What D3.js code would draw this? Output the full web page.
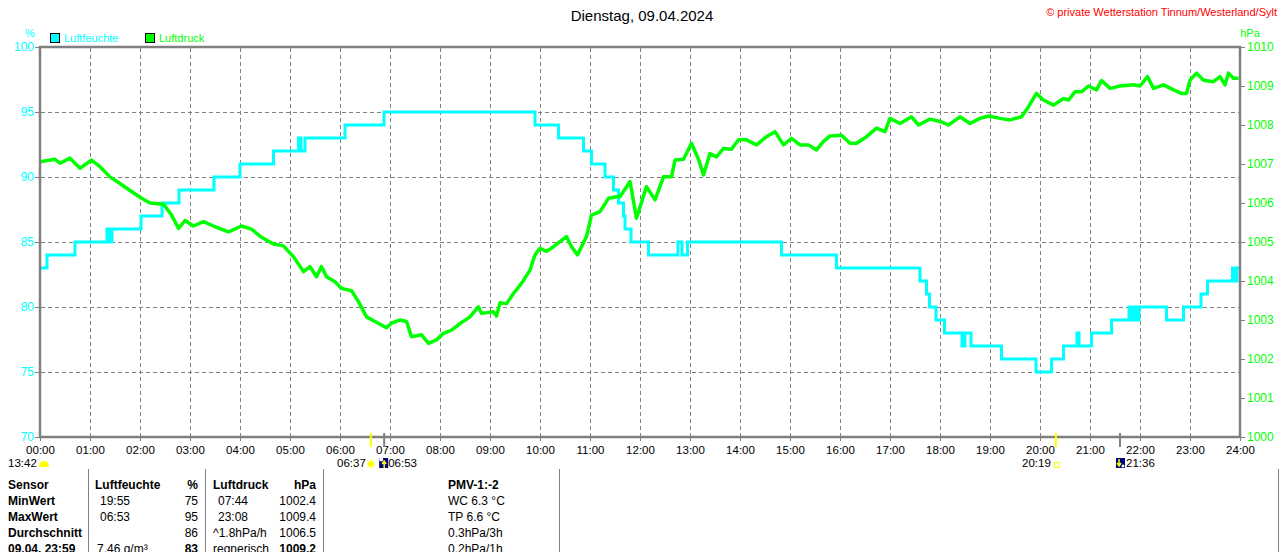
<!DOCTYPE html>
<html>
<head>
<meta charset="utf-8">
<script src="https://cdn.jsdelivr.net/npm/d3@7"></script>
<style>
  html, body { margin: 0; padding: 0; background: #fff; }
  svg { display: block; font-family: "Liberation Sans", Arial, sans-serif; }
</style>
</head>
<body>
<script>
// humidity (step values), time in hours
var humTime = [0, 0.14, 0.7, 1.34, 1.38, 1.44, 2.02, 2.44, 2.78, 3.48, 4.0, 4.67, 5.17, 5.22, 5.3, 6.1, 6.88,
  9.9, 10.37, 10.87, 11.03, 11.3, 11.47, 11.57, 11.67, 11.7, 11.82, 12.17, 12.76, 12.84, 12.95, 14.83, 15.93,
  17.6, 17.73, 17.79, 17.92, 18.09, 18.44, 18.5, 18.62, 19.23, 19.92, 20.23, 20.47, 20.74, 20.78, 21.03, 21.43,
  21.78, 21.84, 21.9, 21.94, 21.98, 22.53, 22.87, 23.22, 23.35, 23.85, 23.9, 23.94, 24];
var humVal = [83, 84, 85, 86, 85, 86, 87, 88, 89, 90, 91, 92, 93, 92, 93, 94, 95,
  94, 93, 92, 91, 90, 89, 88, 87, 86, 85, 84, 85, 84, 85, 84, 83,
  82, 81, 80, 79, 78, 77, 78, 77, 76, 75, 76, 77, 78, 77, 78, 79,
  80, 79, 80, 79, 80, 79, 80, 81, 82, 83, 82, 83, 83];

// air pressure (hPa)
var presTime = [0, 0.3, 0.4, 0.6, 0.8, 1.03, 1.2, 1.4, 1.6, 1.8, 2.03, 2.2, 2.47, 2.63, 2.77, 2.9, 3.07, 3.27,
  3.47, 3.77, 4.03, 4.23, 4.43, 4.67, 4.87, 5.07, 5.27, 5.4, 5.53, 5.63, 5.73, 5.9,
  6.03, 6.23, 6.37, 6.53, 6.7, 6.93, 7.03, 7.2, 7.33, 7.43, 7.63, 7.77, 7.93, 8.07, 8.23, 8.4, 8.6, 8.77,
  8.83, 9.07, 9.13, 9.2, 9.33, 9.47, 9.63, 9.8, 9.9, 10.0, 10.13, 10.27, 10.4, 10.53, 10.63, 10.75, 10.93,
  11.03, 11.2, 11.37, 11.53,
  11.6, 11.8, 11.93, 12.13, 12.3, 12.47, 12.63, 12.7, 12.87, 13.03, 13.17, 13.27, 13.4, 13.53, 13.67, 13.83,
  13.97, 14.13, 14.33, 14.53, 14.7, 14.87, 15.03, 15.2, 15.37, 15.53, 15.67, 15.8, 16.03, 16.2, 16.33, 16.53,
  16.73, 16.9, 17.0,
  17.2, 17.43, 17.57, 17.8, 18.0, 18.17, 18.4, 18.6, 18.8, 18.97, 19.2, 19.4, 19.63, 19.77, 19.93, 20.07,
  20.27, 20.47, 20.57, 20.7, 20.83, 20.97, 21.13, 21.23, 21.4, 21.6, 21.87, 22.0, 22.15, 22.27, 22.47, 22.67,
  22.83, 22.93, 23.0, 23.13, 23.27, 23.47, 23.6, 23.7, 23.77, 23.87, 23.97];
var presVal = [1007.06, 1007.12, 1007.02, 1007.15, 1006.89, 1007.1, 1006.93, 1006.67, 1006.5, 1006.32, 1006.12,
  1006.0, 1005.97, 1005.69, 1005.35, 1005.55, 1005.41, 1005.52, 1005.41, 1005.26, 1005.41, 1005.33, 1005.12,
  1004.95, 1004.9, 1004.62, 1004.24, 1004.37, 1004.11, 1004.37, 1004.11, 1003.98,
  1003.81, 1003.75, 1003.47, 1003.08, 1002.96, 1002.8, 1002.92, 1003.0, 1002.96, 1002.57, 1002.62, 1002.4,
  1002.49, 1002.66, 1002.74, 1002.91, 1003.08, 1003.34, 1003.17, 1003.21, 1003.1, 1003.44, 1003.42, 1003.68,
  1003.94, 1004.28, 1004.67, 1004.84, 1004.76, 1004.88, 1005.01, 1005.14, 1004.88, 1004.67, 1005.14,
  1005.69, 1005.78, 1006.12, 1006.16,
  1006.16, 1006.55, 1005.61, 1006.42, 1006.08, 1006.67, 1006.67, 1007.1, 1007.12, 1007.53, 1007.12, 1006.72,
  1007.27, 1007.18, 1007.4, 1007.38, 1007.62, 1007.62, 1007.49, 1007.7, 1007.83, 1007.49, 1007.66, 1007.49,
  1007.49, 1007.36, 1007.58, 1007.72, 1007.74, 1007.53, 1007.53, 1007.7, 1007.92, 1007.83, 1008.17,
  1008.04, 1008.21, 1008.0, 1008.15, 1008.09, 1008.0, 1008.21, 1008.04, 1008.17, 1008.23, 1008.17, 1008.13,
  1008.21, 1008.47, 1008.81, 1008.64, 1008.51, 1008.68, 1008.64, 1008.85, 1008.85, 1009.0, 1008.9, 1009.14,
  1008.94, 1009.0, 1009.03, 1009.0, 1009.24, 1008.94, 1009.03, 1008.9, 1008.81, 1008.81, 1009.15, 1009.33,
  1009.15, 1009.11, 1009.24, 1009.03, 1009.33, 1009.2, 1009.2];

var humTicks = [70, 75, 80, 85, 90, 95, 100];
var presTicks = [1000, 1001, 1002, 1003, 1004, 1005, 1006, 1007, 1008, 1009, 1010];
var hourTicks = d3.range(0, 25);

// sun / moon events: time, label
var sunrise = [6 + 37 / 60, "06:37"];
var sunset = [20 + 19 / 60, "20:19"];
var moonrise = [6 + 53 / 60, "06:53"];
var moonset = [21 + 36 / 60, "21:36"];

var tableRows = [
  ["Sensor", "Luftfeuchte", "%", "Luftdruck", "hPa", "PMV-1:-2"],
  ["MinWert", "19:55", "75", "07:44", "1002.4", "WC 6.3 °C"],
  ["MaxWert", "06:53", "95", "23:08", "1009.4", "TP 6.6 °C"],
  ["Durchschnitt", "", "86", "^1.8hPa/h", "1006.5", "0.3hPa/3h"],
  ["09.04. 23:59", "7.46 g/m³", "83", "regnerisch", "1009.2", "0.2hPa/1h"]
];

var W = 1280, H = 552;
var svg = d3.select("body").append("svg").attr("width", W).attr("height", H);

var x = d3.scaleLinear().domain([0, 24]).range([40, 1240]);
var yH = d3.scaleLinear().domain([70, 100]).range([437, 47]);
var yP = d3.scaleLinear().domain([1000, 1010]).range([437, 47]);

var grey = "#808080", cyan = "#00ffff", green = "#00ff00";

// grid
svg.append("g").selectAll("line").data(hourTicks.slice(1, 24)).enter().append("line")
  .attr("x1", function (d) { return x(d) + 0.5; }).attr("x2", function (d) { return x(d) + 0.5; })
  .attr("y1", 48).attr("y2", 437)
  .attr("stroke", grey).attr("stroke-dasharray", "4,3");
svg.append("g").selectAll("line").data(humTicks.slice(1, 6)).enter().append("line")
  .attr("x1", 41).attr("x2", 1240)
  .attr("y1", function (d) { return yH(d) + 0.5; }).attr("y2", function (d) { return yH(d) + 0.5; })
  .attr("stroke", grey).attr("stroke-dasharray", "4,3");

// lines
var humData = humTime.map(function (t, i) { return [t, humVal[i]]; });
var presData = presTime.map(function (t, i) { return [t, presVal[i]]; });

svg.append("path").datum(humData)
  .attr("fill", "none").attr("stroke", cyan).attr("stroke-width", 3)
  .attr("d", d3.line().x(function (d) { return x(d[0]); }).y(function (d) { return yH(d[1]); }).curve(d3.curveStepAfter));
svg.append("path").datum(presData)
  .attr("fill", "none").attr("stroke", green).attr("stroke-width", 3.5).attr("stroke-linejoin", "round")
  .attr("d", d3.line().x(function (d) { return x(d[0]); }).y(function (d) { return yP(d[1]); }));

// frame
svg.append("rect").attr("x", 40).attr("y", 47).attr("width", 1200).attr("height", 390)
  .attr("fill", "none").attr("stroke", grey).attr("stroke-width", 2.5);

// axes
var axL = svg.append("g").attr("transform", "translate(40,0)")
  .call(d3.axisLeft(yH).tickValues(humTicks).tickSize(5).tickPadding(1));
var axR = svg.append("g").attr("transform", "translate(1240,0)")
  .call(d3.axisRight(yP).tickValues(presTicks).tickSize(5).tickPadding(2).tickFormat(d3.format("d")));
var axB = svg.append("g").attr("transform", "translate(0,437)")
  .call(d3.axisBottom(x).tickValues(hourTicks).tickSize(4).tickPadding(5)
    .tickFormat(function (d) { return (d < 10 ? "0" : "") + d + ":00"; }));
[axL, axR, axB].forEach(function (a) {
  a.select(".domain").remove();
  a.selectAll(".tick line").attr("stroke", grey);
  a.selectAll("text").attr("font-family", "Liberation Sans, Arial, sans-serif");
});
axL.selectAll("text").attr("fill", cyan).attr("font-size", 12);
axR.selectAll("text").attr("fill", green).attr("font-size", 12);
axB.selectAll("text").attr("fill", "#000").attr("font-size", 11.5);

// titles
svg.append("text").attr("x", 642).attr("y", 21).attr("text-anchor", "middle")
  .attr("font-size", 15).text("Dienstag, 09.04.2024");
svg.append("text").attr("x", 1277).attr("y", 16).attr("text-anchor", "end")
  .attr("font-size", 11).attr("fill", "#ff0000").text("© private Wetterstation Tinnum/Westerland/Sylt");
svg.append("text").attr("x", 30).attr("y", 37).attr("text-anchor", "middle")
  .attr("font-size", 11).attr("fill", cyan).text("%");
svg.append("text").attr("x", 1250).attr("y", 37).attr("text-anchor", "middle")
  .attr("font-size", 11).attr("fill", green).text("hPa");

// legend
var legend = [["Luftfeuchte", cyan, 50], ["Luftdruck", green, 145]];
legend.forEach(function (l) {
  svg.append("rect").attr("x", l[2] + 0.5).attr("y", 33.5).attr("width", 9).attr("height", 9)
    .attr("fill", l[1]).attr("stroke", "#000");
  svg.append("text").attr("x", l[2] + 14).attr("y", 42).attr("font-size", 11).attr("fill", l[1]).text(l[0]);
});

// sun and moon marks on the time axis
svg.append("line").attr("x1", x(sunrise[0])).attr("x2", x(sunrise[0])).attr("y1", 433).attr("y2", 447)
  .attr("stroke", "#ffff00").attr("stroke-width", 2);
svg.append("line").attr("x1", x(sunset[0])).attr("x2", x(sunset[0])).attr("y1", 433).attr("y2", 447)
  .attr("stroke", "#ffff00").attr("stroke-width", 2);
svg.append("line").attr("x1", x(moonrise[0])).attr("x2", x(moonrise[0])).attr("y1", 433).attr("y2", 447)
  .attr("stroke", grey).attr("stroke-width", 2);
svg.append("line").attr("x1", x(moonset[0])).attr("x2", x(moonset[0])).attr("y1", 433).attr("y2", 447)
  .attr("stroke", grey).attr("stroke-width", 2);

var small = svg.append("g").attr("font-size", 11.5);
small.append("text").attr("x", 8).attr("y", 467).text("13:42");
svg.append("path").attr("d", "M39,467 Q39,461 44,461 Q49,461 49,467 Z").attr("fill", "#ffff00");

// sunrise
small.append("text").attr("x", x(sunrise[0]) - 5).attr("y", 467).attr("text-anchor", "end").text(sunrise[1]);
var sx = x(sunrise[0]), sy = 464;
svg.append("circle").attr("cx", sx).attr("cy", sy).attr("r", 3).attr("fill", "#ffff00");
d3.range(8).forEach(function (k) {
  var a = k * Math.PI / 4;
  svg.append("line").attr("x1", sx + Math.cos(a) * 3.5).attr("y1", sy + Math.sin(a) * 3.5)
    .attr("x2", sx + Math.cos(a) * 5).attr("y2", sy + Math.sin(a) * 5).attr("stroke", "#ffff00");
});
// moonrise
var mx = x(moonrise[0]);
svg.append("rect").attr("x", mx - 5).attr("y", 458).attr("width", 9).attr("height", 10).attr("fill", "#000080");
svg.append("circle").attr("cx", mx - 3).attr("cy", 459.5).attr("r", 2).attr("fill", "#fff");
svg.append("path").attr("d", "M" + mx + ",468 L" + mx + ",462 M" + (mx - 2) + ",464 L" + mx + ",461 L" + (mx + 2) + ",464")
  .attr("stroke", "#ffff00").attr("stroke-width", 1.5).attr("fill", "none");
small.append("text").attr("x", mx + 4).attr("y", 467).text(moonrise[1]);

// sunset
var ssx = x(sunset[0]);
small.append("text").attr("x", ssx - 5).attr("y", 467).attr("text-anchor", "end").text(sunset[1]);
svg.append("rect").attr("x", ssx - 1.5).attr("y", 462.5).attr("width", 5).attr("height", 5)
  .attr("fill", "none").attr("stroke", "#ffff00");
// moonset
var msx = x(moonset[0]);
svg.append("rect").attr("x", msx - 4).attr("y", 458).attr("width", 9).attr("height", 10).attr("fill", "#000080");
svg.append("path").attr("d", "M" + (msx - 1) + ",459 L" + (msx - 1) + ",465 M" + (msx - 3) + ",463 L" + (msx - 1) + ",466 L" + (msx + 1) + ",463")
  .attr("stroke", "#ffff00").attr("stroke-width", 1.5).attr("fill", "none");
svg.append("circle").attr("cx", msx + 3).attr("cy", 466).attr("r", 1.5).attr("fill", "#fff");
small.append("text").attr("x", msx + 6).attr("y", 467).text(moonset[1]);

// table
[88, 205, 323, 559, 1278].forEach(function (lx) {
  svg.append("line").attr("x1", lx + 0.5).attr("x2", lx + 0.5).attr("y1", 469).attr("y2", 552)
    .attr("stroke", grey);
});
var colX = [8, 100, 198, 218, 316, 448];
var colAnchor = ["start", "start", "end", "start", "end", "start"];
tableRows.forEach(function (row, r) {
  row.forEach(function (cell, c) {
    var bold = r === 0 || c === 0 || (r === 4 && (c === 2 || c === 4));
    var cx = colX[c];
    if (r === 0 && c === 1) cx = 95;
    if (c === 3 && (r === 0 || r >= 3)) cx = 213;
    if (r === 4 && c === 1) cx = 97;
    svg.append("text").attr("x", cx).attr("y", 489 + r * 16)
      .attr("text-anchor", colAnchor[c])
      .attr("font-size", 12).attr("font-weight", bold ? "bold" : "normal")
      .text(cell);
  });
});
</script>
</body>
</html>
